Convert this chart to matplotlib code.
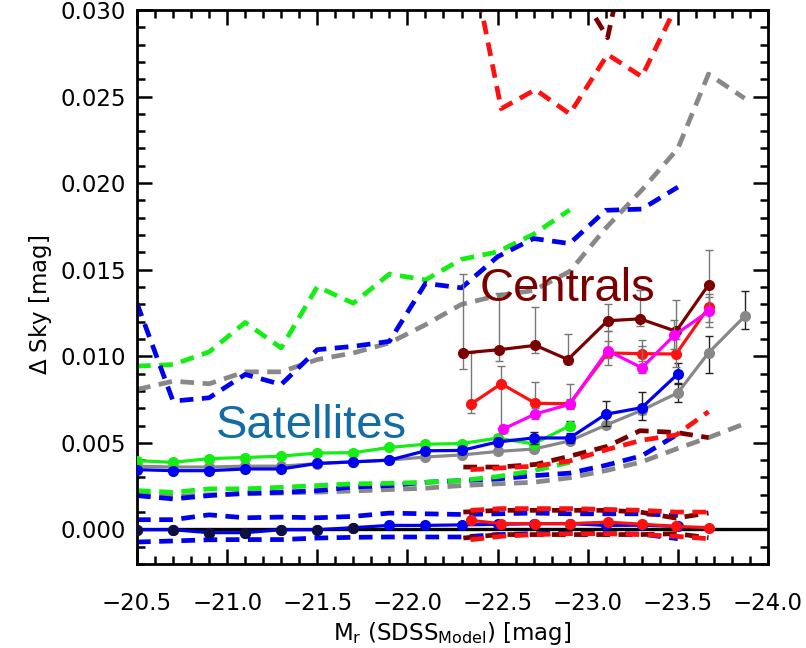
import matplotlib
matplotlib.use("Agg")
import matplotlib.pyplot as plt
from matplotlib.ticker import MultipleLocator, FuncFormatter
import numpy as np

# ---------------------------------------------------------------- data
# all Delta-Sky values below are in units of 1e-3 mag
SCALE = 1e-3

# satellite magnitude bins
mag_sat = [-20.5, -20.7, -20.9, -21.1, -21.3, -21.5, -21.7, -21.9,
           -22.1, -22.3, -22.5, -22.7, -22.9, -23.1, -23.3, -23.5]
mag_green = mag_sat[:13]
mag_gray = mag_sat + [-23.67, -23.87]

# central magnitude bins
mag_dred = [-22.31, -22.51, -22.71, -22.89, -23.11, -23.29, -23.49, -23.67]
mag_red = [-22.35, -22.52, -22.71, -22.90, -23.11, -23.30, -23.49, -23.67]
mag_mag = [-22.53, -22.71, -22.90, -23.11, -23.30, -23.48, -23.67]

# satellites: mean offsets
sat_green = [3.97, 3.87, 4.09, 4.15, 4.23, 4.41, 4.43, 4.73, 4.92, 4.96, 5.27, 4.94, 5.98]
sat_blue = [3.45, 3.39, 3.39, 3.49, 3.49, 3.81, 3.90, 4.00, 4.54, 4.56, 5.05, 5.28, 5.28,
            6.65, 7.03, 8.98]
sat_gray = [3.65, 3.60, 3.60, 3.65, 3.65, 3.80, 3.90, 4.00, 4.18, 4.30, 4.50, 4.64, 5.11,
            6.02, 6.88, 7.89, 10.20, 12.30]

# satellites: error-bar bounds (low, high)
sat_green_lo = [3.80, 3.75, 3.97, 4.03, 4.10, 4.28, 4.30, 4.60, 4.78, 4.82, 5.10, 4.76, 5.72]
sat_green_hi = [4.14, 3.99, 4.21, 4.27, 4.36, 4.54, 4.56, 4.86, 5.06, 5.10, 5.44, 5.12, 6.24]
sat_blue_lo = [3.30, 3.27, 3.27, 3.37, 3.37, 3.68, 3.77, 3.87, 4.40, 4.38, 4.80, 4.95, 5.00,
               6.00, 6.30, 8.40]
sat_blue_hi = [3.60, 3.51, 3.51, 3.61, 3.61, 3.94, 4.03, 4.13, 4.68, 4.74, 5.30, 5.61, 5.56,
               7.40, 7.95, 9.60]
sat_gray_lo = [3.55, 3.50, 3.50, 3.55, 3.55, 3.70, 3.80, 3.90, 4.08, 4.20, 4.38, 4.52, 4.95,
               5.85, 6.65, 7.35, 9.05, 11.55]
sat_gray_hi = [3.75, 3.70, 3.70, 3.75, 3.75, 3.90, 4.00, 4.10, 4.28, 4.40, 4.62, 4.76, 5.27,
               6.19, 7.11, 8.45, 11.15, 13.75]

# centrals: mean offsets
cen_dred = [10.19, 10.38, 10.63, 9.81, 12.05, 12.16, 11.44, 14.12]
cen_red = [7.22, 8.41, 7.28, 7.26, 10.19, 10.15, 10.13, 12.82]
cen_mag = [5.79, 6.67, 7.22, 10.33, 9.33, 11.21, 12.59]

# centrals: error-bar bounds (low, high)
cen_dred_lo = [9.29, 9.71, 10.19, 9.56, 11.44, 11.76, 10.40, 13.00]
cen_dred_hi = [14.73, 13.64, 12.84, 11.28, 13.03, 13.83, 13.26, 16.13]
cen_red_lo = [6.74, 5.88, 6.55, 7.03, 9.50, 9.70, 9.40, 12.00]
cen_red_hi = [10.19, 9.43, 8.52, 8.41, 10.90, 10.60, 11.00, 13.60]
cen_mag_lo = [5.55, 6.35, 6.95, 9.90, 9.04, 10.40, 11.70]
cen_mag_hi = [6.05, 7.00, 7.55, 11.44, 10.96, 12.10, 13.40]

# scatter envelopes (dashed): upper branch
up_green = [9.43, 9.52, 10.25, 11.95, 10.48, 14.02, 13.06, 14.75, 14.41, 15.60, 16.03,
            17.05, 18.45]
up_blue = [13.06, 7.41, 7.60, 8.95, 8.37, 10.38, 10.57, 10.86, 14.21, 13.95, 15.75, 16.80,
           16.51, 18.43, 18.50, 19.77]
up_gray = [8.08, 8.56, 8.41, 9.10, 9.10, 9.81, 10.19, 10.77, 11.82, 13.00, 13.50, 13.80,
           14.90, 17.40, 19.60, 22.00, 26.30, 24.90]
up_red = [33.2, 24.30, 25.40, 24.00, 27.43, 26.15, 30.2, 34.0]
up_dred = [36.0, 34.0, 35.0, 32.2, 28.40, 37.0, 36.0, 40.0]

# scatter envelopes (dashed): lower branch
lo_green = [2.24, 2.14, 2.34, 2.34, 2.43, 2.53, 2.63, 2.66, 2.72, 2.82, 3.05, 3.39, 3.87]
lo_blue = [1.95, 1.76, 1.95, 2.09, 2.14, 2.24, 2.45, 2.53, 2.72, 2.82, 2.91, 3.10, 3.25,
           3.70, 4.25, 5.50]
lo_gray = [2.00, 1.90, 2.00, 2.05, 2.10, 2.15, 2.22, 2.30, 2.38, 2.53, 2.63, 2.72, 2.98,
           3.39, 3.90, 4.68, 5.30, 6.10]
lo_red = [3.45, 3.55, 3.65, 3.95, 4.62, 5.15, 5.45, 6.80]
lo_dred = [3.60, 3.60, 3.75, 4.20, 4.80, 5.70, 5.60, 5.30]

# null test (random positions): means and envelopes
null_blue = [-0.02, -0.02, -0.19, -0.19, -0.02, -0.02, 0.10, 0.23, 0.23, 0.26, 0.29, 0.33,
             0.33, 0.23, 0.24, 0.17]
null_red = [0.52, 0.33, 0.33, 0.33, 0.42, 0.30, 0.17, 0.10]
null_blue_up = [0.56, 0.56, 0.84, 0.67, 0.71, 0.67, 0.75, 0.94, 0.90, 0.86, 0.90, 0.94, 0.90,
                0.90, 0.90, 0.80]
null_blue_lo = [-0.73, -0.67, -0.60, -0.59, -0.59, -0.50, -0.46, -0.44, -0.44, -0.44, -0.30,
                -0.25, -0.20, -0.25, -0.27, -0.54]
null_red_up = [1.10, 1.20, 1.20, 1.20, 1.15, 1.10, 1.00, 1.00]
null_red_lo = [-0.60, -0.40, -0.30, -0.25, -0.25, -0.30, -0.40, -0.54]
null_dred_up = [1.00, 1.10, 1.10, 1.10, 1.10, 1.00, 0.65, 0.95]
null_dred_lo = [-0.50, -0.30, -0.30, -0.30, -0.30, -0.30, -0.25, -0.48]

# ---------------------------------------------------------------- style
GREEN = "#14ee14"
BLUE = "#0000f0"
GRAY = "#888888"
DRED = "#7a0000"
RED = "#ff1010"
MAGENTA = "#ff00ff"

plt.rcParams["font.family"] = ["DejaVu Sans"]
plt.rcParams["mathtext.fontset"] = "dejavusans"

fig = plt.figure(figsize=(8.06, 6.48), dpi=100)
W, H = 806.0, 648.0
ax = fig.add_axes([137 / W, 1 - 564 / H, (768 - 137) / W, (564 - 10) / H])


def v(arr):
    return np.asarray(arr, dtype=float) * SCALE


DASH = (0, (2.9, 1.8))
LW_D = 3.4


def dashed(x, y, color, z=2):
    ax.plot(x, v(y), color=color, lw=LW_D, ls=DASH, zorder=z, dash_capstyle="butt")


def solid(x, y, lo, hi, color, ecolor, z=4, ms=7):
    y = v(y)
    yerr = None
    if lo is not None:
        yerr = [y - v(lo), v(hi) - y]
    ax.errorbar(x, y, yerr=yerr, color=color, lw=2.3, marker="o", ms=ms,
                mec=color, mfc=color, ecolor=ecolor, elinewidth=1.0, capsize=3.2,
                capthick=1.0, zorder=z)


# null-test envelopes
dashed(mag_sat, null_blue_up, BLUE)
dashed(mag_sat, null_blue_lo, BLUE)
dashed(mag_dred, null_dred_up, DRED)
dashed(mag_dred, null_dred_lo, DRED)
dashed(mag_red, null_red_up, RED)
dashed(mag_red, null_red_lo, RED)

# scatter envelopes, lower branch
dashed(mag_gray, lo_gray, GRAY)
dashed(mag_sat, lo_blue, BLUE)
dashed(mag_green, lo_green, GREEN)
dashed(mag_dred, lo_dred, DRED)
dashed(mag_red, lo_red, RED)

# scatter envelopes, upper branch
dashed(mag_gray, up_gray, GRAY)
dashed(mag_green, up_green, GREEN)
dashed(mag_sat, up_blue, BLUE)
dashed(mag_dred, up_dred, DRED)
dashed(mag_red, up_red, RED)

# zero reference line
ax.axhline(0.0, color="black", lw=2.4, zorder=3)

# null-test means
solid(mag_sat, null_blue, None, None, BLUE, "k", z=4)
solid(mag_red, null_red, None, None, RED, "k", z=4)
ax.plot(mag_sat[:7], v(null_blue[:7]), "o", ms=7, color="#101040", zorder=4.5)

# satellites
solid(mag_gray, sat_gray, sat_gray_lo, sat_gray_hi, GRAY, "#222222", z=5)
solid(mag_green, sat_green, sat_green_lo, sat_green_hi, GREEN, "#222222", z=5)
solid(mag_sat, sat_blue, sat_blue_lo, sat_blue_hi, BLUE, "#222222", z=6)

# centrals
solid(mag_dred, cen_dred, cen_dred_lo, cen_dred_hi, DRED, "#777777", z=6)
solid(mag_red, cen_red, cen_red_lo, cen_red_hi, RED, "#777777", z=6)
solid(mag_mag, cen_mag, cen_mag_lo, cen_mag_hi, MAGENTA, "#777777", z=7)

# annotations
ax.text(-22.4, 0.0132, "Centrals", color="#7a0000", fontsize=34,
        family="Liberation Sans", ha="left", va="baseline", zorder=8)
ax.text(-20.94, 0.0053, "Satellites", color="#136ca3", fontsize=34,
        family="Liberation Sans", ha="left", va="baseline", zorder=8)

# axes
ax.set_xlim(-20.5, -24.0)
ax.set_ylim(-0.002, 0.030)
ax.xaxis.set_major_locator(MultipleLocator(0.5))
ax.xaxis.set_minor_locator(MultipleLocator(0.1))
ax.yaxis.set_major_locator(MultipleLocator(0.005))
ax.yaxis.set_minor_locator(MultipleLocator(0.001))
ax.xaxis.set_major_formatter(FuncFormatter(lambda x, p: f"{x:.1f}".replace("-", "\u2212")))
ax.yaxis.set_major_formatter(FuncFormatter(lambda y, p: f"{abs(y) if abs(y) < 1e-9 else y:.3f}"))
ax.tick_params(which="both", direction="in", top=True, right=True, width=1.8,
               labelsize=16.5, colors="black")
ax.tick_params(which="major", length=11)
ax.tick_params(which="minor", length=6)
ax.tick_params(axis="x", which="major", pad=20)
ax.tick_params(axis="y", which="major", pad=8)
for s in ax.spines.values():
    s.set_linewidth(2.0)

fig.text(452 / W, 1 - 640 / H, r"M$_{\rm r}$ (SDSS$_{\rm Model}$) [mag]", fontsize=16.5,
         ha="center", va="baseline")
fig.text(40 / W, 1 - 305 / H, r"$\Delta$ Sky [mag]", fontsize=16.5, rotation=90,
         ha="center", va="center")

fig.savefig("out.png", dpi=100)
